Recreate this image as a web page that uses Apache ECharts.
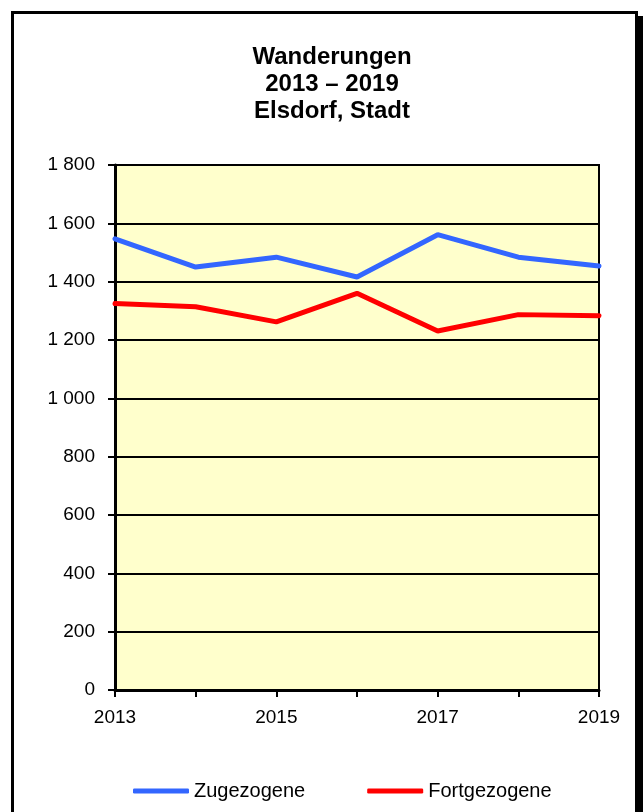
<!DOCTYPE html>
<html>
<head>
<meta charset="utf-8">
<script src="https://cdn.jsdelivr.net/npm/echarts@6/dist/echarts.min.js"></script>
<style>
html,body{margin:0;padding:0;background:#fff;}
#chart{width:643px;height:812px;}
</style>
</head>
<body>
<div id="chart"></div>
<script>
// Daten
let jahre = ['2013', '2014', '2015', '2016', '2017', '2018', '2019']
let zugezogene = [1547, 1450, 1484, 1416, 1561, 1484, 1454]
let fortgezogene = [1325, 1314, 1262, 1360, 1231, 1287, 1283]
let serienNamen = ['Zugezogene', 'Fortgezogene']

let schrift = 'Liberation Sans, Arial, sans-serif'

// 1 800 statt 1,800
function tausender(v){
    return String(v).replace(/\B(?=(\d{3})+(?!\d))/g, ' ')
}

let chart = echarts.init(document.getElementById('chart'))

let option = {
    animation: false,
    backgroundColor: '#fff',
    textStyle: {
        fontFamily: schrift
    },
    graphic: [
        { // Schatten
            type: 'rect',
            z: -10,
            shape: { x: 17, y: 16, width: 626, height: 820 },
            style: { fill: '#000' }
        },
        { // Rahmen
            type: 'rect',
            z: -9,
            shape: { x: 12.5, y: 12.5, width: 624, height: 820 },
            style: { fill: '#fff', stroke: '#000', lineWidth: 3 }
        }
    ],
    title: {
        text: 'Wanderungen\n2013 – 2019\nElsdorf, Stadt',
        left: 327,
        textAlign: 'center',
        top: 39,
        textStyle: {
            fontFamily: schrift,
            fontSize: 24,
            fontWeight: 'bold',
            lineHeight: 27,
            color: '#000'
        }
    },
    legend: {
        data: serienNamen,
        left: 133,
        top: 781,
        padding: 0,
        icon: 'roundRect',
        itemWidth: 56,
        itemHeight: 5,
        itemGap: 62,
        textStyle: {
            fontFamily: schrift,
            fontSize: 20,
            color: '#000'
        }
    },
    grid: {
        left: 115,
        right: 44,
        top: 165,
        bottom: 122,
        show: true,
        backgroundColor: '#FFFFCC',
        borderColor: '#000',
        borderWidth: 2
    },
    xAxis: {
        type: 'category',
        boundaryGap: false,
        data: jahre,
        axisLine: {
            lineStyle: { color: '#000', width: 3 }
        },
        axisTick: {
            show: true,
            interval: 0,
            length: 7,
            lineStyle: { color: '#000', width: 2 }
        },
        axisLabel: {
            interval: 1,
            margin: 18,
            fontSize: 19,
            color: '#000',
            fontFamily: schrift
        },
        splitLine: { show: false }
    },
    yAxis: {
        type: 'value',
        min: 0,
        max: 1800,
        interval: 200,
        axisLine: {
            show: true,
            lineStyle: { color: '#000', width: 3 }
        },
        axisTick: {
            show: true,
            length: 7,
            lineStyle: { color: '#000', width: 2 }
        },
        axisLabel: {
            margin: 20,
            fontSize: 19,
            color: '#000',
            fontFamily: schrift,
            formatter: tausender
        },
        splitLine: {
            lineStyle: { color: '#000', width: 2 }
        }
    },
    series: [
        {
            name: serienNamen[0],
            type: 'line',
            data: zugezogene,
            symbol: 'none',
            lineStyle: { color: '#3366FF', width: 5, cap: 'round' },
            itemStyle: { color: '#3366FF' }
        },
        {
            name: serienNamen[1],
            type: 'line',
            data: fortgezogene,
            symbol: 'none',
            lineStyle: { color: '#FF0000', width: 5, cap: 'round' },
            itemStyle: { color: '#FF0000' }
        }
    ]
}

chart.setOption(option)
</script>
</body>
</html>
